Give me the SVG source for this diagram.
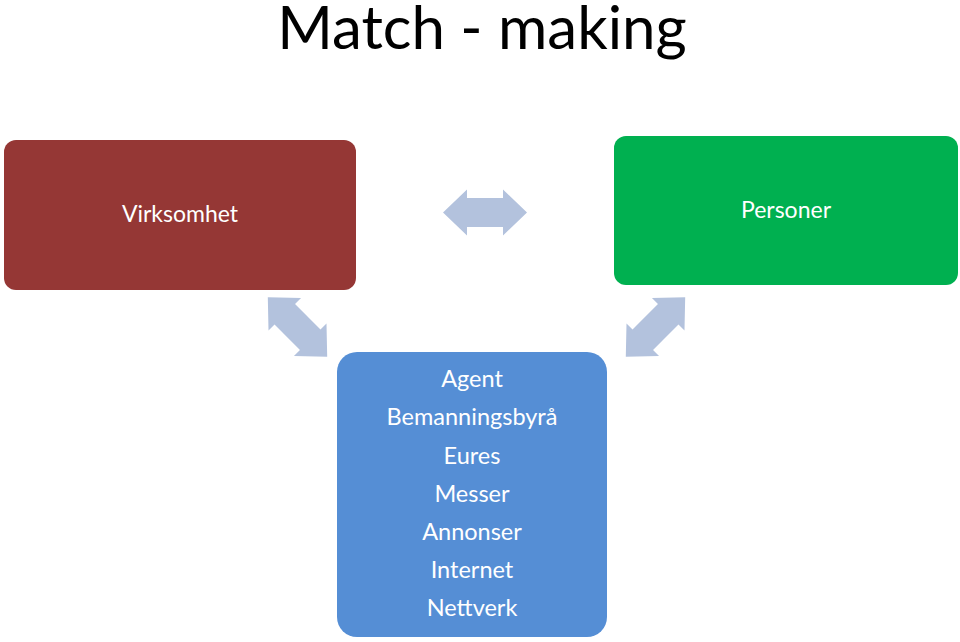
<svg xmlns="http://www.w3.org/2000/svg" width="960" height="642" viewBox="0 0 960 642">
<style>
text{font-family:Lato,"Open Sans","Liberation Sans",sans-serif;text-anchor:middle}
.t{fill:#000;font-size:60px}
.w{fill:#fff;font-size:23px}
.l{fill:#fff;font-size:23.5px}
.arr{fill:#B3C2DD}
</style>
<defs>
<polygon id="dbl" points="-42,0 -18,-23 -18,-14.5 18,-14.5 18,-23 42,0 18,23 18,14.5 -18,14.5 -18,23"/>
</defs>
<rect width="960" height="642" fill="#fff"/>
<text class="t" x="482" y="49">Match - making</text>
<g id="virksomhet">
<rect x="4" y="140" width="352" height="150" rx="12" fill="#953735"/>
<text class="w" x="180" y="222">Virksomhet</text>
</g>
<g id="personer">
<rect x="614" y="136" width="344" height="149" rx="12" fill="#00B050"/>
<text class="w" x="786" y="218">Personer</text>
</g>
<g id="agent">
<rect x="337" y="352" width="270" height="285" rx="20" fill="#558ED5"/>
<text class="l" x="472" y="387">Agent</text>
<text class="l" x="472" y="425">Bemanningsbyrå</text>
<text class="l" x="472" y="464">Eures</text>
<text class="l" x="472" y="502">Messer</text>
<text class="l" x="472" y="540">Annonser</text>
<text class="l" x="472" y="578">Internet</text>
<text class="l" x="472" y="616">Nettverk</text>
</g>
<g id="connectors" class="arr">
<use href="#dbl" transform="translate(485,212.5)"/>
<use href="#dbl" transform="translate(297.5,327) rotate(45)"/>
<use href="#dbl" transform="translate(655.5,327) rotate(-45)"/>
</g>
</svg>
